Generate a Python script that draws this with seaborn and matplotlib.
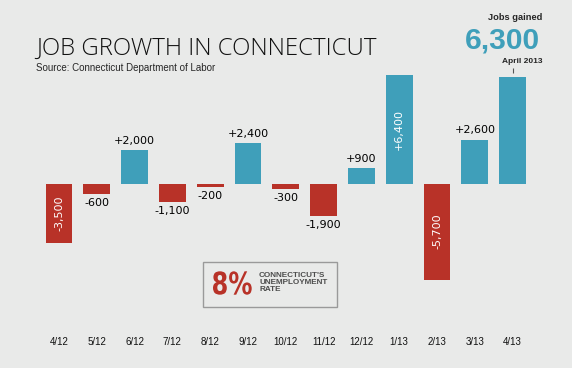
import numpy as np
import matplotlib
matplotlib.use('Agg')
import matplotlib.pyplot as plt
import seaborn as sns
import pandas as pd
from matplotlib.patches import Rectangle, PathPatch
from matplotlib.textpath import TextPath
from matplotlib.font_manager import FontProperties
from matplotlib.transforms import Affine2D

months = ['4/12', '5/12', '6/12', '7/12', '8/12', '9/12', '10/12',
          '11/12', '12/12', '1/13', '2/13', '3/13', '4/13']
jobs = [-3500, -600, 2000, -1100, -200, 2400, -300,
        -1900, 900, 6400, -5700, 2600, 6300]
inside = ['4/12', '1/13', '2/13']   # labels written inside the bar
headline = '6,300'
unemployment = '8%'

bg = '#e9eae9'
blue = '#3f9fba'
red = '#b83228'

sns.set_style('white')
plt.rcParams['font.family'] = ['Liberation Sans', 'DejaVu Sans']

df = pd.DataFrame({'month': months, 'jobs': jobs})
df['sign'] = np.where(df['jobs'] > 0, 'gain', 'loss')

W, H = 572, 368
fig = plt.figure(figsize=(W / 100, H / 100), dpi=100, facecolor=bg)
ax = fig.add_axes([0, 0, 1, 1])
ax.set_facecolor(bg)
sns.barplot(data=df, x='month', y='jobs', hue='sign',
            palette={'gain': blue, 'loss': red}, dodge=False, width=0.706,
            legend=False, linewidth=0, saturation=1, ax=ax)

ax.set_xlim(-1.561, 13.571)
ax.set_ylim(-10917, 10858)
sns.despine(ax=ax, left=True, bottom=True, top=True, right=True)
ax.spines['bottom'].set_position(('axes', 0.084))
ax.set_yticks([])
ax.set_xlabel('')
ax.set_ylabel('')
ax.tick_params(axis='x', length=0, pad=0, labelsize=7, labelcolor='#111111')

# value labels
for i, (m, v) in enumerate(zip(months, jobs)):
    lab = f'{v:+,}'
    if m == months[-1]:
        continue
    if m in inside:
        ax.text(i, v / 2, lab, rotation=90, color='white', ha='center',
                va='center', fontsize=8, family='DejaVu Sans')
    else:
        ax.annotate(lab, (i, v), xytext=(0, 3 if v > 0 else -3),
                    textcoords='offset points', ha='center',
                    va='bottom' if v > 0 else 'top', fontsize=8,
                    family='DejaVu Sans', color='black')

# headline for the last month
last = len(months) - 1
ax.vlines(last, jobs[-1] + 250, jobs[-1] + 520, color='#555555', lw=0.8)
fig.text(542 / W, 1 - 20.5 / H, 'Jobs gained', ha='right', va='baseline',
         fontsize=6.7, weight='bold')
fig.text(540 / W, 1 - 48.3 / H, headline, ha='right', va='baseline',
         fontsize=21.5, weight='bold', color=blue)
fig.text(542 / W, 1 - 63 / H, 'April 2013', ha='right', va='baseline',
         fontsize=6, weight='bold')

# title
fig.text(36.5 / W, 1 - 55 / H, 'JOB GROWTH IN CONNECTICUT', ha='left',
         va='baseline', fontsize=17.3, family=['Open Sans', 'DejaVu Sans'],
         weight='light', color='#111111')
fig.text(36.5 / W, 1 - 71 / H, 'Source: Connecticut Department of Labor',
         ha='left', va='baseline', fontsize=7)

# unemployment box
fig.add_artist(Rectangle((202.7 / W, 1 - 307 / H), (337 - 202.7) / W,
                         (307 - 261.7) / H, transform=fig.transFigure,
                         fill=False, ec='#9a9a9a', lw=1))

# condensed "8%" (no narrow font installed, so squeeze the glyph path)
tp = TextPath((0, 0), unemployment, size=30,
              prop=FontProperties(family='DejaVu Sans', weight='bold'))
ext = tp.get_extents()
x0, x1, y_top, y_bot = 213, 251.7, 271.3, 294.7
sx = (x1 - x0) / W / ext.width
sy = (y_bot - y_top) / H / ext.height
tr = (Affine2D().translate(-ext.x0, -ext.y0).scale(sx, sy)
      .translate(x0 / W, (H - y_bot) / H))
fig.add_artist(PathPatch(tp, transform=tr + fig.transFigure,
                         fc=red, ec='none', zorder=5))

fig.text(259 / W, 1 - 271.8 / H, "CONNECTICUT'S\nUNEMPLOYMENT\nRATE",
         ha='left', va='top', fontsize=5.9, weight='bold',
         color='#4d4d4d', linespacing=1.0)

fig.savefig('out.png', dpi=100, facecolor=bg)
